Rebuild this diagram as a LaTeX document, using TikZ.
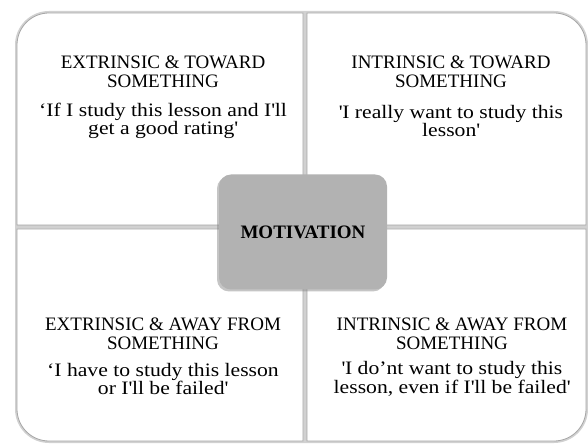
\documentclass[tikz,border=0pt]{standalone}
\usepackage{fontspec}
\setmainfont{Liberation Serif}
\newfontfamily\wideserif{Liberation Serif}[FakeStretch=1.14]
\usetikzlibrary{shadows}
\colorlet{rim colour}{black!18}
\colorlet{edge colour}{black!35}
\colorlet{core colour}{black!30}
\newcommand{\sq}{\textquotesingle}
\tikzset{
    % The four panels: a soft grey rim underneath, white face on top
    panel rim/.style={draw=rim colour, line width=4pt},
    panel/.style={
        fill=white, draw=edge colour, line width=0.8pt,
        preaction={panel rim}},
    % Text in the panels
    heading/.style={font=\fontsize{19}{19.5}\selectfont, align=center, inner sep=0},
    saying/.style={font=\wideserif\fontsize{19}{18.5}\selectfont, align=center, inner sep=0},
    % Box in the middle
    core/.style={
        fill=core colour, rounded corners=12pt,
        minimum width=168pt, minimum height=115pt,
        font=\fontsize{19}{19}\selectfont\bfseries,
        drop shadow={shadow xshift=-2pt, shadow yshift=-2pt, opacity=0.45}},
}

\begin{document}
\begin{tikzpicture}[x=1pt, y=1pt]
    \useasboundingbox (0,0) rectangle (588,444);

    % panels, each with its outer corner rounded
    \path [panel] (303,219) -- (17,219) -- (17,399)
        arc [start angle=180, end angle=90, radius=32] -- (303,431) -- cycle;
    \path [panel] (307,219) -- (307,431) -- (554,431)
        arc [start angle=90, end angle=0, radius=32] -- (586,219) -- cycle;
    \path [panel] (303,215) -- (303,3) -- (49,3)
        arc [start angle=270, end angle=180, radius=32] -- (17,215) -- cycle;
    \path [panel] (307,215) -- (307,3) -- (554,3)
        arc [start angle=-90, end angle=0, radius=32] -- (586,215) -- cycle;

    \node [core] (motivation) at (303,212) {MOTIVATION};

    \node [heading] (tl head) at (163,372) {EXTRINSIC \& TOWARD\\SOMETHING};
    \node [saying] (tl say) at (163,323) {‘If I study this lesson and I\sq ll\\get a good rating\sq};

    \node [heading] (tr head) at (451,372) {INTRINSIC \& TOWARD\\SOMETHING};
    \node [saying] (tr say) at (451,323) {\sq I really want to study this\\lesson\sq};

    \node [heading] (bl head) at (163,110) {EXTRINSIC \& AWAY FROM\\SOMETHING};
    \node [saying] (bl say) at (163,65) {‘I have to study this lesson\\or I\sq ll be failed\sq};

    \node [heading] (br head) at (452,110) {INTRINSIC \& AWAY FROM\\SOMETHING};
    \node [saying] (br say) at (452,65) {\sq I do’nt want to study this\\lesson, even if I\sq ll be failed\sq};
\end{tikzpicture}
\end{document}
